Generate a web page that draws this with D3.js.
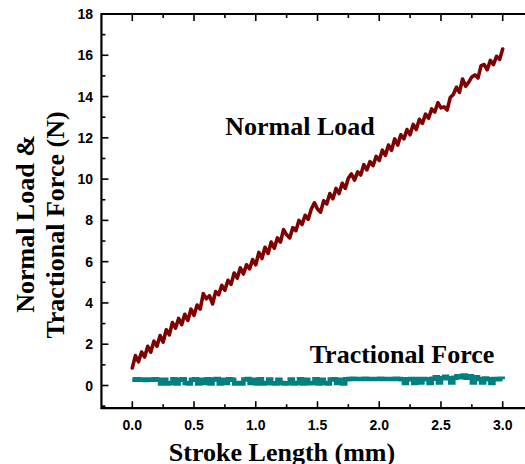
<!DOCTYPE html>
<html>
<head>
<meta charset="utf-8">
<script src="https://cdn.jsdelivr.net/npm/d3@7"></script>
<style>
  body { margin: 0; background: #fff; }
  svg { display: block; }
</style>
</head>
<body>
<script>
// Stroke length step (mm) between samples
const step = 0.025;

// Normal load (N), every 0.025 mm
const normalLoad = [
  0.85, 1.45, 1.15, 1.62, 1.38, 1.90, 1.62, 2.15, 1.90, 2.42,
  2.10, 2.70, 2.45, 3.05, 2.78, 3.25, 2.95, 3.45, 3.15, 3.70,
  3.40, 3.90, 3.70, 4.45, 4.20, 4.35, 3.95, 4.55, 4.40, 4.85,
  4.62, 5.10, 4.90, 5.45, 5.20, 5.70, 5.40, 5.85, 5.65, 6.10,
  5.85, 6.45, 6.15, 6.70, 6.40, 6.95, 6.65, 7.15, 6.95, 7.55,
  7.30, 7.15, 7.65, 7.50, 8.00, 7.80, 8.25, 8.05, 8.55, 8.85,
  8.55, 8.40, 8.95, 8.80, 9.30, 9.05, 9.55, 9.30, 9.80, 9.55,
  10.05, 10.25, 9.95, 10.35, 10.20, 10.70, 10.45, 10.85, 10.65, 11.10,
  10.90, 11.40, 11.15, 11.65, 11.40, 11.95, 11.65, 12.15, 11.95, 12.40,
  12.15, 12.65, 12.40, 12.90, 12.70, 13.15, 12.95, 13.40, 13.25, 13.70,
  13.45, 13.50, 13.35, 13.95, 14.10, 14.45, 14.20, 14.85, 14.50, 14.70,
  14.95, 15.05, 14.90, 15.50, 15.55, 15.30, 15.75, 15.55, 15.95, 15.80,
  16.30
];

// Tractional force (N), same sampling
const tractionalForce = [
  0.28, 0.30, 0.28, 0.29, 0.27, 0.29, 0.28, 0.30, 0.28, 0.10,
  0.28, 0.10, 0.12, 0.30, 0.10, 0.28, 0.30, 0.12, 0.10, 0.28,
  0.30, 0.10, 0.28, 0.12, 0.30, 0.10, 0.29, 0.31, 0.10, 0.28,
  0.12, 0.30, 0.28, 0.10, 0.12, 0.10, 0.29, 0.31, 0.12, 0.28,
  0.10, 0.30, 0.10, 0.12, 0.29, 0.11, 0.10, 0.28, 0.12, 0.10,
  0.11, 0.29, 0.10, 0.12, 0.30, 0.10, 0.28, 0.11, 0.12, 0.30,
  0.10, 0.28, 0.12, 0.10, 0.29, 0.30, 0.12, 0.28, 0.10, 0.30,
  0.32, 0.33, 0.32, 0.31, 0.32, 0.33, 0.32, 0.32, 0.31, 0.32,
  0.33, 0.32, 0.31, 0.32, 0.32, 0.33, 0.32, 0.30, 0.12, 0.30,
  0.32, 0.12, 0.31, 0.14, 0.32, 0.30, 0.12, 0.33, 0.40, 0.14,
  0.35, 0.42, 0.35, 0.15, 0.38, 0.45, 0.40, 0.48, 0.38, 0.45,
  0.15, 0.40, 0.32, 0.14, 0.34, 0.30, 0.12, 0.32, 0.30, 0.33,
  0.30
];

const xTicks = [0.0, 0.5, 1.0, 1.5, 2.0, 2.5, 3.0];
const yTicks = [0, 2, 4, 6, 8, 10, 12, 14, 16, 18];

const width = 525, height = 464;

const svg = d3.select("body").append("svg")
  .attr("width", width)
  .attr("height", height);

svg.append("rect").attr("width", width).attr("height", height).attr("fill", "#fff");

// scales: the frame runs from -0.25 mm to past the right edge, -1.1 N to 18 N
const x = d3.scaleLinear().domain([0, 3]).range([132.3, 502.7]);
const y = d3.scaleLinear().domain([0, 18]).range([385.5, 14]);

const frameL = x(-0.25), frameR = x(3.25), frameT = y(18), frameB = y(-1.1);

const tickFont = "'Liberation Sans', Arial, sans-serif";
const titleFont = "'Liberation Serif', 'Times New Roman', serif";

// ticks (inward), minor ticks included
const g = svg.append("g").attr("stroke", "#000").attr("stroke-width", 1.6);
d3.range(0, 13).map(i => i * 0.25).forEach(v => {
  const len = (v * 2) % 1 === 0 ? 7 : 4;
  g.append("line").attr("x1", x(v)).attr("x2", x(v)).attr("y1", frameB).attr("y2", frameB - len);
  g.append("line").attr("x1", x(v)).attr("x2", x(v)).attr("y1", frameT).attr("y2", frameT + len);
});
d3.range(-1, 19).forEach(v => {
  const len = v % 2 === 0 ? 7 : 4;
  g.append("line").attr("x1", frameL).attr("x2", frameL + len).attr("y1", y(v)).attr("y2", y(v));
});

// frame
svg.append("path")
  .attr("d", `M${frameR},${frameT}H${frameL}V${frameB}H${frameR}`)
  .attr("fill", "none").attr("stroke", "#000").attr("stroke-width", 2.2);

// tick labels
svg.selectAll(".xl").data(xTicks).enter().append("text")
  .attr("x", d => x(d)).attr("y", 430)
  .attr("text-anchor", "middle")
  .attr("font-family", tickFont).attr("font-weight", "bold").attr("font-size", 14)
  .text(d => d.toFixed(1));

svg.selectAll(".yl").data(yTicks).enter().append("text")
  .attr("x", 93).attr("y", d => y(d)).attr("dy", "0.36em")
  .attr("text-anchor", "end")
  .attr("font-family", tickFont).attr("font-weight", "bold").attr("font-size", 14)
  .text(d => d);

// lines
const line = d3.line().x((d, i) => x(i * step)).y(d => y(d));

svg.append("path").datum(tractionalForce)
  .attr("d", line.curve(d3.curveStepAfter))
  .attr("fill", "none").attr("stroke", "#008080").attr("stroke-width", 4.5);

svg.append("path").datum(normalLoad)
  .attr("d", line.curve(d3.curveLinear))
  .attr("fill", "none").attr("stroke", "#7f0000").attr("stroke-width", 3.6)
  .attr("stroke-linejoin", "round").attr("stroke-linecap", "round");

// labels
const title = (t, px, py, rot) => svg.append("text")
  .attr("transform", `translate(${px},${py})` + (rot ? " rotate(-90)" : ""))
  .attr("text-anchor", "middle")
  .attr("font-family", titleFont).attr("font-weight", "bold").attr("font-size", 26)
  .text(t);

title("Normal Load", 300, 135);
title("Tractional Force", 402, 363);
title("Stroke Length (mm)", 282, 461);
title("Normal Load &", 34, 224, true);
title("Tractional Force (N)", 64, 225, true);
</script>
</body>
</html>
